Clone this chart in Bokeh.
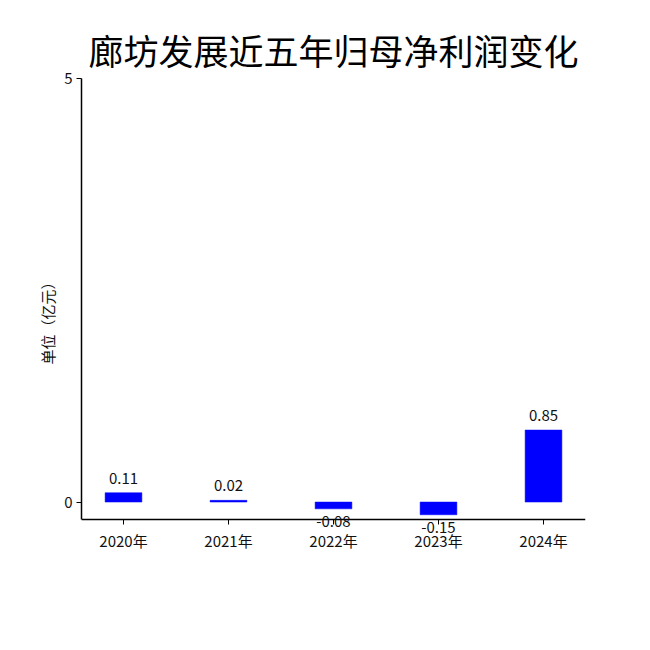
from bokeh.plotting import figure
from bokeh.models import ColumnDataSource, Range1d, FixedTicker, Label
from bokeh.embed import file_html
from bokeh.resources import INLINE

years = ["2020年", "2021年", "2022年", "2023年", "2024年"]
profits = [0.11, 0.02, -0.08, -0.15, 0.85]
title_text = "廊坊发展近五年归母净利润变化"
y_label = "单位（亿元）"
y_ticks = [0, 5]
y_axis_bottom = -0.21
FONT = "Noto Sans CJK SC"

xs = list(range(len(years)))
src = ColumnDataSource(dict(x=xs, top=profits))

p = figure(width=640, height=640, output_backend="svg", toolbar_location=None,
           x_range=Range1d(-0.4, 4.4), y_range=Range1d(-0.69, 5.0),
           min_border_left=81, min_border_right=55, min_border_top=78,
           min_border_bottom=80, title=title_text)

p.vbar(x="x", top="top", bottom=0, width=0.35, source=src,
       fill_color="#0000ff", line_color="#0000ff", line_width=0.5)

for x, v in zip(xs, profits):
    p.add_layout(Label(x=x, y=v, text=f"{v:.2f}", text_align="center",
                       text_baseline="bottom" if v >= 0 else "top",
                       y_offset=9 if v >= 0 else -7,
                       text_font=FONT, text_font_size="15px",
                       text_color="#111111"))

p.title.text_font = FONT
p.title.text_font_size = "35px"
p.title.text_font_style = "normal"
p.title.align = "center"
p.title.text_color = "#000000"
p.title.standoff = 7

p.outline_line_color = None
p.xgrid.visible = False
p.ygrid.visible = False

p.xaxis.ticker = FixedTicker(ticks=xs)
p.xaxis.major_label_overrides = {i: y for i, y in enumerate(years)}
p.xaxis.fixed_location = y_axis_bottom
p.yaxis.ticker = FixedTicker(ticks=y_ticks)
p.yaxis.bounds = (y_axis_bottom, y_ticks[-1])
p.yaxis.axis_label = y_label

for ax in (p.xaxis[0], p.yaxis[0]):
    ax.axis_line_color = "black"
    ax.axis_line_width = 1.5
    ax.major_tick_line_color = "black"
    ax.major_tick_in = 0
    ax.major_tick_out = 5
    ax.minor_tick_line_color = None
    ax.major_label_text_font = FONT
    ax.major_label_text_font_size = "15px"
    ax.major_label_text_color = "#111111"

p.xaxis.major_label_standoff = 5
p.yaxis.major_label_standoff = 4
p.yaxis.axis_label_text_font = FONT
p.yaxis.axis_label_text_font_size = "15px"
p.yaxis.axis_label_text_font_style = "normal"
p.yaxis.axis_label_text_color = "#111111"
p.yaxis.axis_label_standoff = 3

open("out.html", "w").write(file_html(p, INLINE))
